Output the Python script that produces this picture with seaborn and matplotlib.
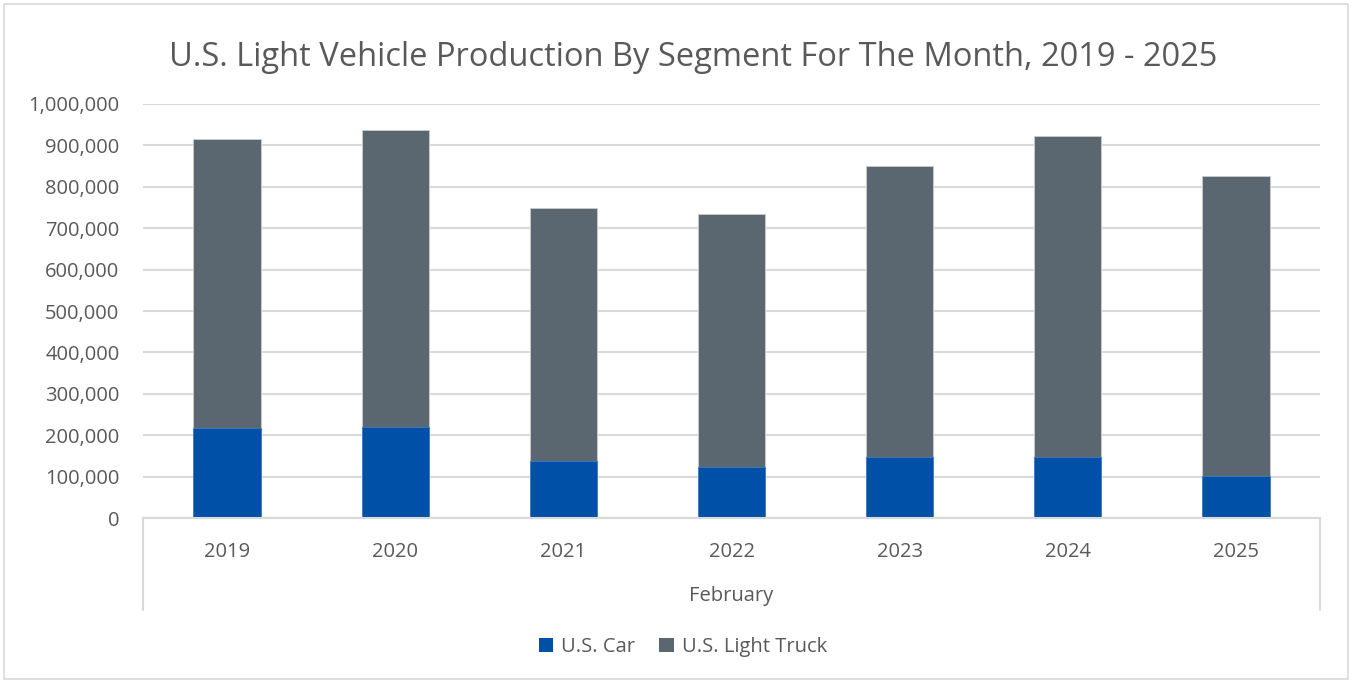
import matplotlib
matplotlib.use("Agg")
import matplotlib.pyplot as plt
import seaborn as sns
import pandas as pd
from matplotlib.patches import Patch, Rectangle
from matplotlib.lines import Line2D
from matplotlib.ticker import FuncFormatter

years = ["2019", "2020", "2021", "2022", "2023", "2024", "2025"]
us_car = [218000, 220500, 138000, 122000, 147000, 147000, 100500]
us_light_truck = [697000, 715500, 610000, 613000, 704000, 775000, 726500]
series_names = ["U.S. Car", "U.S. Light Truck"]
month_label = "February"
title = "U.S. Light Vehicle Production By Segment For The Month, 2019 - 2025"

car_color = "#0050A8"
truck_color = "#5B6770"
text_color = "#595959"
grid_color = "#D9D9D9"

sns.set_theme(style="white")
plt.rcParams["font.family"] = ["Open Sans", "DejaVu Sans"]

df = pd.DataFrame({"year": years, "car": us_car, "truck": us_light_truck})
df["total"] = df["car"] + df["truck"]

fig = plt.figure(figsize=(13.52, 6.83), dpi=100)
W, H = 1352, 683
ax = fig.add_axes([143 / W, 1 - 518 / H, (1320 - 143) / W, (518 - 104) / H])

sns.barplot(data=df, x="year", y="total", color=truck_color, width=0.4,
            saturation=1, ax=ax, edgecolor="#C9CED3", linewidth=0.6, zorder=3)
sns.barplot(data=df, x="year", y="car", color=car_color, width=0.4,
            saturation=1, ax=ax, edgecolor="#3F7CC4", linewidth=0.6, zorder=4)

ax.set_ylim(0, 1000000)
ax.set_xlim(-0.5, len(years) - 0.5)
ax.set_yticks(range(0, 1000001, 100000))
ax.yaxis.set_major_formatter(FuncFormatter(lambda v, p: f"{int(v):,}"))
ax.grid(axis="y", color=grid_color, linewidth=1.5, zorder=0)
ax.grid(axis="x", visible=False)
ax.set_axisbelow(True)
for s in ["top", "right", "left"]:
    ax.spines[s].set_visible(False)
ax.spines["bottom"].set_color(grid_color)
ax.spines["bottom"].set_linewidth(1.5)
ax.spines["bottom"].set_zorder(5)
ax.tick_params(axis="y", length=0, pad=17, labelsize=14.5, labelcolor=text_color)
ax.tick_params(axis="x", length=0, pad=17, labelsize=14.5, labelcolor=text_color)
ax.set_xlabel("")
ax.set_ylabel("")

# multi-level category box
for xp in (143, 1320):
    fig.add_artist(Line2D([xp / W, xp / W], [1 - 518 / H, 1 - 610 / H],
                          color=grid_color, linewidth=1.5))

fig.text(731.5 / W, 1 - 596 / H, month_label, ha="center", va="center",
         fontsize=14.5, color=text_color)

fig.text(693 / W, 1 - 57 / H, title, ha="center", va="center",
         fontsize=23.5, color=text_color)

handles = [Patch(facecolor=car_color, edgecolor="none"),
           Patch(facecolor=truck_color, edgecolor="none")]
fig.legend(handles, series_names, loc="center", bbox_to_anchor=(683 / W, 1 - 647 / H),
           ncol=2, frameon=False, fontsize=14.5, labelcolor=text_color,
           handlelength=0.7, handleheight=0.7, handletextpad=0.4, columnspacing=1.2)

# chart border
fig.add_artist(Rectangle((4 / W, 4 / H), 1 - 8 / W, 1 - 8 / H, transform=fig.transFigure,
                         fill=False, edgecolor=grid_color, linewidth=1.2))

fig.savefig("out.png", dpi=100)
